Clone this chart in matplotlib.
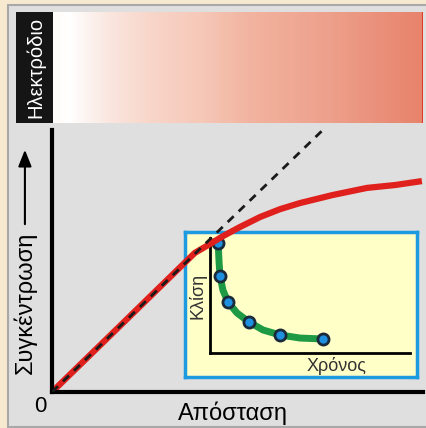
import numpy as np
import matplotlib.pyplot as plt
from matplotlib.colors import LinearSegmentedColormap
from matplotlib.patches import Rectangle

plt.rcParams['font.family'] = ['Liberation Sans', 'DejaVu Sans']

# main curve: concentration vs distance from the electrode
distance = [0, 1.83, 3.85, 4.26, 4.61, 5.07, 5.61, 6.15, 6.68, 7.57, 8.49, 9.25, 9.97]
concentration = [0, 2.52, 5.31, 5.65, 5.95, 6.30, 6.68, 6.98, 7.21, 7.52, 7.79, 7.90, 8.05]
# initial slope (dashed)
slope_x = [0, 7.3]
slope_y = [0, 10.0]

# inset: slope vs time
time_line = [0.4, 0.45, 0.5, 0.65, 0.9, 1.35, 1.95, 2.65, 3.5, 4.5, 5.65]
slope_line = [9.9, 8.0, 6.7, 5.45, 4.43, 3.48, 2.70, 2.0, 1.57, 1.3, 1.22]
time_pts = [0.4, 0.5, 0.9, 1.95, 3.5, 5.65]
slope_pts = [9.57, 6.70, 4.43, 2.70, 1.57, 1.22]

W, H = 426, 428
fig = plt.figure(figsize=(W / 100, H / 100), dpi=100)
fig.patch.set_facecolor('#F7E9CF')

def box(x0, y0, x1, y1):
    # pixel box (top-left origin) -> figure fraction rect
    return [x0 / W, 1 - y1 / H, (x1 - x0) / W, (y1 - y0) / H]

# grey panel
bg = fig.add_axes([0, 0, 1, 1], zorder=-5)
bg.axis('off')
bg.set_xlim(0, 1)
bg.set_ylim(0, 1)
bg.add_patch(Rectangle((8 / W, 1 - 427 / H), 430 / W, 422 / H,
                       facecolor='#DFDFDF', edgecolor='#A8A8A8', lw=1.5))

# electrode gradient bar
bar = fig.add_axes(box(53, 12, 423, 123))
cmap = LinearSegmentedColormap.from_list(
    'el', [(0, '#FFFDF9'), (0.04, '#FFFFFF'), (0.15, '#FAE6DF'), (0.26, '#F8D6CA'),
           (0.4, '#F6C8B8'), (0.53, '#F2B4A0'), (0.75, '#EDA08B'), (1, '#E8836C')])
bar.imshow(np.linspace(0, 1, 300)[None, :], aspect='auto', cmap=cmap, extent=[0, 1, 0, 1])
bar.axvline(1, color='#E03020', lw=2)
bar.set_xlim(0, 1)
bar.axis('off')

lab = fig.add_axes(box(16, 12, 53, 123))
lab.set_facecolor('#151515')
lab.set_xticks([])
lab.set_yticks([])
for s in lab.spines.values():
    s.set_visible(False)
lab.text(0.52, 0.5, 'Ηλεκτρόδιο', color='white', rotation=90, ha='center', va='center',
         fontsize=14.5, transform=lab.transAxes)

# inset box
ins = fig.add_axes(box(185, 232, 417, 377), zorder=1)
ins.set_facecolor('#FFFFC8')
ins.set_xticks([])
ins.set_yticks([])
for s in ins.spines.values():
    s.set_color('#1E9BE0')
    s.set_linewidth(2.5)

inner = fig.add_axes(box(210, 238, 410, 353), zorder=2)
inner.patch.set_visible(False)
inner.plot(time_line, slope_line, color='#1E9A45', lw=5, solid_capstyle='round', zorder=2)
inner.plot(time_pts, slope_pts, 'o', ms=8, mfc='#1E90E0', mec='#1A2A3A', mew=2, zorder=3)
inner.set_xlim(0, 10)
inner.set_ylim(0, 10)
inner.spines['top'].set_visible(False)
inner.spines['right'].set_visible(False)
inner.spines['left'].set_linewidth(2)
inner.spines['bottom'].set_linewidth(2)
inner.set_xticks([])
inner.set_yticks([])
inner.text(-0.065, 0.5, 'Κλίση', transform=inner.transAxes, rotation=90,
           ha='center', va='center', fontsize=13, color='#333333')
inner.text(0.635, -0.11, 'Χρόνος', transform=inner.transAxes,
           ha='center', va='center', fontsize=13, color='#333333')

# main axes
ax = fig.add_axes(box(52, 130, 423, 392), zorder=3)
ax.patch.set_visible(False)
ax.plot(distance, concentration, color='#E0201C', lw=4.5, solid_capstyle='butt',
        solid_joinstyle='round', zorder=2)
ax.plot(slope_x, slope_y, color='#1A1A1A', lw=2, ls=(0, (3, 2.5)), zorder=3)
ax.set_xlim(0, 10)
ax.set_ylim(0, 10)
ax.spines['top'].set_visible(False)
ax.spines['right'].set_visible(False)
ax.spines['left'].set_linewidth(3)
ax.spines['bottom'].set_linewidth(3)
ax.set_xticks([])
ax.set_yticks([])
ax.text(0.488, -0.08, 'Απόσταση', transform=ax.transAxes, ha='center', va='center', fontsize=17)
ax.text(-0.032, -0.055, '0', transform=ax.transAxes, ha='center', va='center', fontsize=16)
ax.text(-0.073, 0.07, 'Συγκέντρωση', transform=ax.transAxes, rotation=90,
        ha='center', va='bottom', fontsize=17)
ax.annotate('', xy=(-0.073, 0.935), xytext=(-0.073, 0.63), xycoords='axes fraction',
            arrowprops=dict(arrowstyle='-|>,head_length=1.0,head_width=0.4', color='black', lw=1.5))

fig.savefig('out.png', dpi=100, facecolor=fig.get_facecolor())
